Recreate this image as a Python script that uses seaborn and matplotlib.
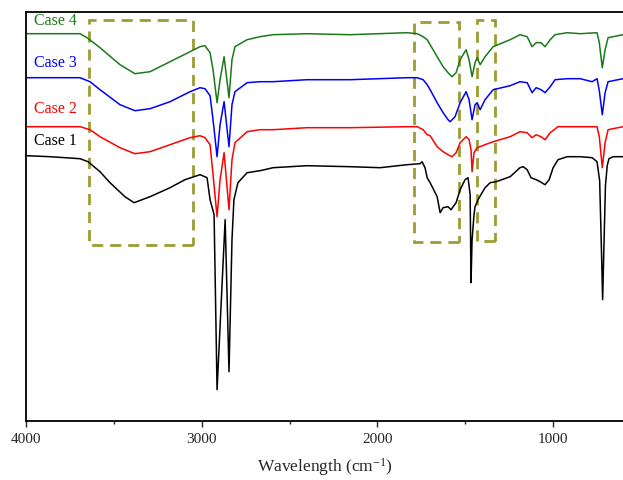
import matplotlib
matplotlib.use("Agg")
import matplotlib.pyplot as plt
from matplotlib.patches import Rectangle
from matplotlib.ticker import MultipleLocator
import seaborn as sns
import pandas as pd

# FTIR spectra, transmittance in arbitrary units (already offset per case)
wn_case4 = [4000, 3694, 3654, 3580, 3466, 3381, 3295, 3181, 3067, 3010, 2982, 2953, 2936, 2913,
            2896, 2873, 2845, 2828, 2811, 2742, 2668, 2594, 2400, 2155, 1830, 1773, 1739, 1716,
            1699, 1659, 1625, 1597, 1574, 1551, 1528, 1494, 1477, 1460, 1443, 1431, 1414, 1386,
            1340, 1243, 1187, 1146, 1118, 1095, 1067, 1044, 1015, 987, 918, 844, 748, 735, 718,
            702, 685, 600]
t_case4 = [387, 387, 383, 373, 356, 347, 349, 359, 369, 374, 375, 368, 351, 318,
           341, 364, 323, 361, 374, 381, 384, 386, 387, 386, 388, 387, 384, 381,
           376, 364, 354, 348, 344, 348, 361, 371, 361, 344, 358, 363, 356, 364,
           374, 381, 386, 384, 374, 378, 378, 374, 381, 386, 388, 387, 388, 378, 353,
           371, 383, 386]

wn_case3 = [4000, 3694, 3637, 3580, 3466, 3381, 3295, 3181, 3067, 3010, 2982, 2953, 2936, 2913,
            2896, 2873, 2845, 2828, 2811, 2742, 2668, 2594, 2400, 2155, 1830, 1773, 1739, 1716,
            1699, 1659, 1625, 1597, 1585, 1557, 1528, 1494, 1477, 1460, 1443, 1431, 1414, 1386,
            1340, 1243, 1187, 1146, 1118, 1095, 1067, 1044, 1015, 987, 918, 844, 776, 748, 735,
            718, 702, 685, 600]
t_case3 = [343, 343, 339, 331, 316, 310, 312, 319, 329, 333, 332, 325, 301, 264,
           296, 319, 274, 316, 329, 338, 339, 339, 341, 341, 343, 343, 341, 336,
           331, 318, 308, 301, 299, 304, 318, 329, 321, 301, 316, 318, 311, 321,
           331, 335, 339, 338, 328, 333, 331, 328, 334, 341, 342, 342, 339, 342, 330,
           306, 328, 339, 342]

wn_case2 = [4000, 3694, 3637, 3580, 3466, 3381, 3295, 3181, 3067, 3010, 2982, 2953, 2936, 2913,
            2896, 2873, 2845, 2828, 2811, 2742, 2668, 2594, 2400, 2155, 1830, 1773, 1739, 1716,
            1699, 1659, 1625, 1597, 1574, 1551, 1528, 1494, 1477, 1466, 1460, 1449, 1431, 1386,
            1340, 1243, 1187, 1146, 1118, 1095, 1067, 1044, 1015, 970, 918, 844, 748, 735, 718,
            702, 685, 600]
t_case2 = [294, 294, 291, 284, 273, 267, 269, 276, 283, 285, 283, 276, 246, 204,
           241, 268, 211, 261, 278, 289, 291, 291, 293, 293, 294, 294, 291, 286,
           285, 274, 269, 266, 264, 268, 278, 284, 281, 271, 249, 268, 273, 276,
           279, 284, 289, 288, 283, 286, 284, 281, 288, 294, 294, 294, 294, 284, 253,
           278, 291, 294]

wn_case1 = [4000, 3865, 3694, 3648, 3580, 3523, 3438, 3386, 3295, 3181, 3096, 3010, 2970, 2953,
            2930, 2913, 2867, 2845, 2828, 2817, 2794, 2742, 2668, 2594, 2400, 2155, 1984, 1830,
            1756, 1745, 1728, 1716, 1699, 1659, 1642, 1625, 1597, 1580, 1551, 1528, 1500, 1483,
            1471, 1466, 1460, 1449, 1443, 1426, 1403, 1386, 1357, 1323, 1243, 1187, 1169, 1146,
            1124, 1095, 1072, 1044, 1021, 998, 970, 918, 844, 776, 748, 733, 722, 716, 710, 700,
            690, 680, 656, 600]
t_case1 = [265, 264, 262, 259, 249, 238, 224, 218, 224, 233, 241, 246, 243, 221,
           206, 31, 201, 49, 181, 221, 238, 248, 250, 253, 255, 254, 253, 256,
           257, 259, 253, 243, 238, 224, 208, 213, 214, 211, 218, 231, 241, 243,
           226, 138, 181, 206, 214, 221, 228, 233, 238, 239, 244, 253, 254, 251,
           243, 241, 239, 236, 241, 253, 261, 264, 264, 263, 259, 240, 165, 121, 165, 235,
           255, 262, 264, 264]

cases = ["Case 1", "Case 2", "Case 3", "Case 4"]
colors = ["black", "#ff0000", "#0000ff", "#1a7a1a"]

# dashed regions of interest: (wn_left, wn_right, t_bottom, t_top)
boxes = [(3644, 3050, 176, 401), (1790, 1534, 179, 399), (1431, 1329, 180, 401)]

frames = []
for name, wn, t in zip(cases, [wn_case1, wn_case2, wn_case3, wn_case4],
                       [t_case1, t_case2, t_case3, t_case4]):
    frames.append(pd.DataFrame({"wn": wn, "t": t, "case": name}))
df = pd.concat(frames, ignore_index=True)

sns.set_style("ticks")
plt.rcParams["font.family"] = ["Liberation Serif", "DejaVu Serif"]
plt.rcParams["mathtext.fontset"] = "custom"
plt.rcParams["mathtext.rm"] = "Liberation Serif"
plt.rcParams["mathtext.it"] = "Liberation Serif:italic"

fig = plt.figure(figsize=(6.23, 4.8), dpi=100)
ax = fig.add_axes([26.3 / 623, 1 - 420.7 / 480, (623 - 26.3) / 623, (420.7 - 12) / 480])

sns.lineplot(data=df, x="wn", y="t", hue="case", palette=dict(zip(cases, colors)),
             estimator=None, sort=True, legend=False, linewidth=1.1, ax=ax)

for x0, x1, y0, y1 in boxes:
    ax.add_patch(Rectangle((x1, y0), x0 - x1, y1 - y0, fill=False, edgecolor="#9c9c34",
                           linewidth=2, linestyle=(0, (4, 2.5))))

# case labels, top-left, in the line colours
label_y = [141, 109, 63, 21]
for name, c, py in zip(cases, colors, label_y):
    ax.text((34 - 26.3) / 596.7, (420.7 - py) / 408.7, name,
            transform=ax.transAxes, color=c, fontsize=11.5, va="center", ha="left")

ax.set_xlim(4000, 600)
ax.set_ylim(0, 408.7)
ax.xaxis.set_major_locator(MultipleLocator(1000))
ax.xaxis.set_minor_locator(MultipleLocator(500))
ax.tick_params(axis="x", which="major", direction="out", length=4, width=1, labelsize=11, pad=5)
ax.tick_params(axis="x", which="minor", direction="out", length=2, width=1)
ax.set_yticks([])
ax.set_ylabel("")
ax.set_xlabel(r"Wavelength (cm$^{-1}$)", fontsize=12.5, labelpad=7)
ax.spines["right"].set_visible(False)
for s in ["left", "bottom", "top"]:
    ax.spines[s].set_linewidth(1.3)
    ax.spines[s].set_color("black")

fig.savefig("out.png", dpi=100)
